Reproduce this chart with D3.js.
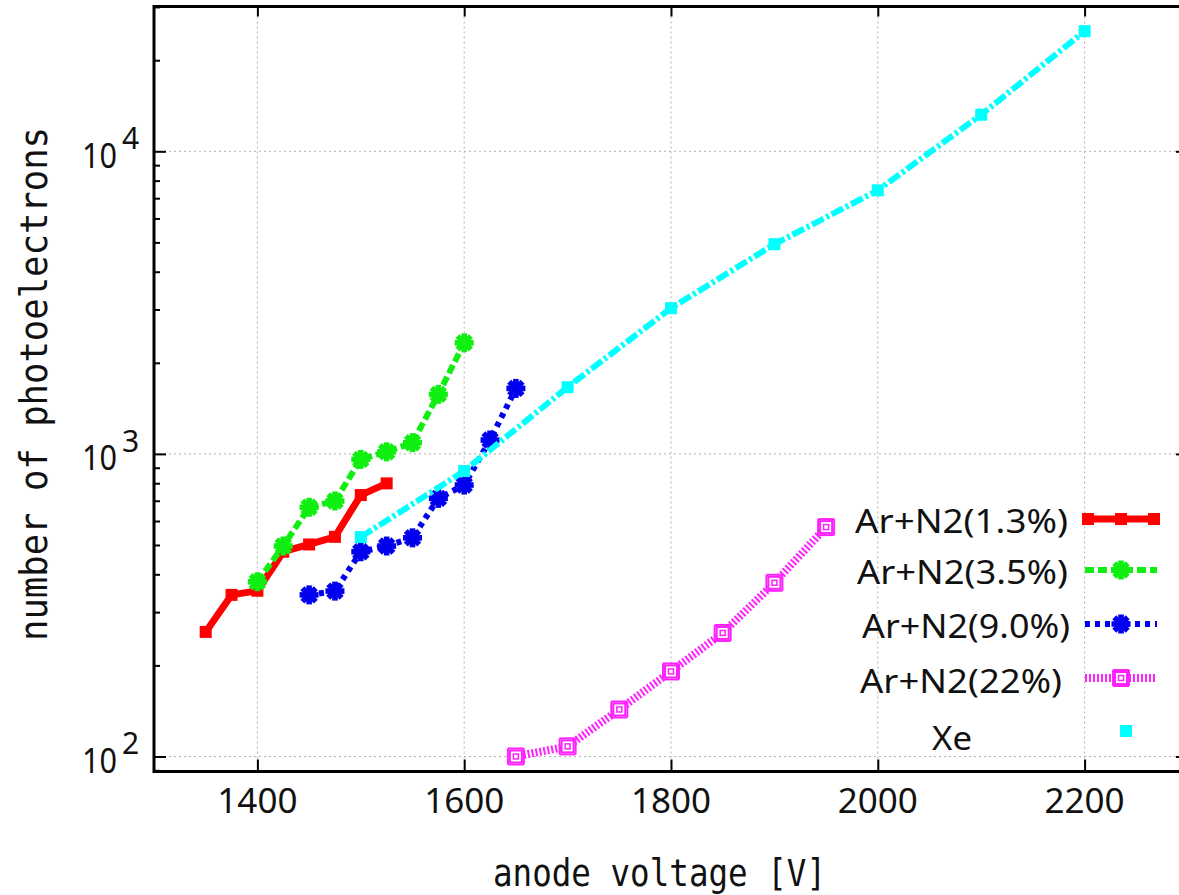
<!DOCTYPE html>
<html>
<head>
<meta charset="utf-8">
<script src="https://cdn.jsdelivr.net/npm/d3@7"></script>
<style>
  html, body { margin: 0; padding: 0; background: #fff; }
  svg { display: block; }
</style>
</head>
<body>
<svg id="chart" width="1179" height="895"></svg>
<script>
// ---------------- data ----------------
const volt13 = [1350, 1375, 1400, 1425, 1450, 1475, 1500, 1525];
const n13    = [258, 342, 353, 475, 502, 532, 731, 799];

const volt35 = [1400, 1425, 1450, 1475, 1500, 1525, 1550, 1575, 1600];
const n35    = [378, 496, 666, 699, 959, 1016, 1089, 1573, 2328];

const volt90 = [1450, 1475, 1500, 1525, 1550, 1575, 1600, 1625, 1650];
const n90    = [342, 352, 475, 496, 528, 713, 789, 1111, 1646];

const volt22 = [1650, 1700, 1750, 1800, 1850, 1900, 1950];
const n22    = [100, 108, 143, 191, 256, 375, 573];

const voltXe = [1500, 1600, 1700, 1800, 1900, 2000, 2100, 2200];
const nXe    = [531, 878, 1662, 3030, 4932, 7430, 13210, 24950];

const seriesNames = ["Ar+N2(1.3%)", "Ar+N2(3.5%)", "Ar+N2(9.0%)", "Ar+N2(22%)", "Xe"];
const xTickValues = [1400, 1600, 1800, 2000, 2200];
const yMajorTicks = [100, 1000, 10000];
const yExponents  = ["2", "3", "4"];
const xTitle = "anode voltage [V]";
const yTitle = "number of photoelectrons";

// ---------------- layout ----------------
const svg = d3.select("#chart");
const L = 154, R = 1188, T = 6.5, B = 771.5;

const x = d3.scaleLinear().domain([1300, 2300]).range([L, R]);
const y = d3.scaleLog().domain([89.2, 30100]).range([B, T]);

const series = [
  { name: seriesNames[0], xs: volt13, ys: n13, color: "#ff0000", dash: null, width: 7, marker: "square" },
  { name: seriesNames[1], xs: volt35, ys: n35, color: "#11ee11", dash: "9,4", width: 6, marker: "star" },
  { name: seriesNames[2], xs: volt90, ys: n90, color: "#0000ee", dash: "5,5", width: 6, marker: "star" },
  { name: seriesNames[3], xs: volt22, ys: n22, color: "#ff22ff", dash: "2,2", width: 8, marker: "hash" },
  { name: seriesNames[4], xs: voltXe, ys: nXe, color: "#00ffff", dash: "13,3,3,3", width: 6, marker: "fsquare" }
];

// ---------------- grid ----------------
const grid = svg.append("g");
xTickValues.forEach(v => {
  grid.append("line").attr("x1", x(v)).attr("x2", x(v)).attr("y1", T).attr("y2", B)
    .attr("stroke", "#b0b0b0").attr("stroke-width", 1).attr("stroke-dasharray", "2,3");
});
yMajorTicks.forEach(v => {
  grid.append("line").attr("x1", L).attr("x2", R).attr("y1", y(v)).attr("y2", y(v))
    .attr("stroke", "#b0b0b0").attr("stroke-width", 1).attr("stroke-dasharray", "2,3");
});

// ---------------- axes ----------------
const minorY = [90];
[100, 1000, 10000].forEach(d => { for (let k = 2; k <= 9; k++) { const v = d * k; if (v < 30100) minorY.push(v); } });

function styleAxis(g) {
  g.select(".domain").remove();
  g.selectAll("line").attr("stroke", "#000").attr("stroke-width", 2);
  g.selectAll("text").remove();
}
svg.append("g").attr("transform", `translate(${L},0)`).call(d3.axisLeft(y).tickValues(minorY).tickSize(-6)).call(styleAxis);
svg.append("g").attr("transform", `translate(${L},0)`).call(d3.axisLeft(y).tickValues(yMajorTicks).tickSize(-12)).call(styleAxis);
svg.append("g").attr("transform", `translate(${R},0)`).call(d3.axisRight(y).tickValues(minorY).tickSize(-6)).call(styleAxis);
svg.append("g").attr("transform", `translate(${R},0)`).call(d3.axisRight(y).tickValues(yMajorTicks).tickSize(-12)).call(styleAxis);
svg.append("g").attr("transform", `translate(0,${B})`).call(d3.axisBottom(x).tickValues(xTickValues).tickSize(-12)).call(styleAxis);
svg.append("g").attr("transform", `translate(0,${T})`).call(d3.axisTop(x).tickValues(xTickValues).tickSize(-10)).call(styleAxis);

svg.append("rect").attr("x", L).attr("y", T).attr("width", R - L).attr("height", B - T)
  .attr("fill", "none").attr("stroke", "#000").attr("stroke-width", 3);

// tick labels
xTickValues.forEach(v => {
  svg.append("text").attr("x", x(v)).attr("y", 813).attr("text-anchor", "middle")
    .attr("font-family", "'Noto Sans', sans-serif").attr("font-size", 35).attr("fill", "#111").text(v);
});
yMajorTicks.forEach((v, i) => {
  svg.append("text").attr("x", 117).attr("y", y(v) + 16.5).attr("text-anchor", "end")
    .attr("font-family", "'Noto Sans', sans-serif").attr("font-size", 35).attr("fill", "#111")
    .attr("textLength", 35).attr("lengthAdjust", "spacingAndGlyphs").text("10");
  svg.append("text").attr("x", 122).attr("y", y(v) - 2).attr("text-anchor", "start")
    .attr("font-family", "'Noto Sans', sans-serif").attr("font-size", 30).attr("fill", "#111").text(yExponents[i]);
});

// axis titles
svg.append("text").attr("x", 493).attr("y", 886)
  .attr("font-family", "'DejaVu Sans Mono', monospace").attr("font-size", 37).attr("fill", "#111")
  .attr("textLength", 333).attr("lengthAdjust", "spacingAndGlyphs").text(xTitle);
svg.append("text").attr("transform", "translate(47,641) rotate(-90)")
  .attr("font-family", "'DejaVu Sans Mono', monospace").attr("font-size", 37).attr("fill", "#111")
  .attr("textLength", 514).attr("lengthAdjust", "spacingAndGlyphs").text(yTitle);

// ---------------- markers ----------------
function drawMarker(g, type, cx, cy, color) {
  if (type === "square" || type === "fsquare") {
    const s = 12;
    g.append("rect").attr("x", cx - s / 2).attr("y", cy - s / 2).attr("width", s).attr("height", s).attr("fill", color);
  } else if (type === "star") {
    const sg = g.append("g").attr("transform", `translate(${cx},${cy})`);
    [0, 45, 90, 135].forEach(a => {
      sg.append("rect").attr("x", -9.5).attr("y", -2.8).attr("width", 19).attr("height", 5.6)
        .attr("transform", `rotate(${a})`).attr("fill", color);
    });
    sg.append("rect").attr("x", -4).attr("y", -4).attr("width", 8).attr("height", 8).attr("fill", color);
  } else if (type === "hash") {
    g.append("rect").attr("x", cx - 6).attr("y", cy - 6).attr("width", 12).attr("height", 12)
      .attr("fill", "#fff").attr("stroke", color).attr("stroke-width", 2);
    g.append("rect").attr("x", cx - 2.5).attr("y", cy - 2.5).attr("width", 5).attr("height", 5)
      .attr("fill", "none").attr("stroke", color).attr("stroke-width", 1.5);
    [-8, 8].forEach(d => {
      g.append("line").attr("x1", cx - 8).attr("x2", cx + 8).attr("y1", cy + d).attr("y2", cy + d).attr("stroke", color).attr("stroke-width", 2);
      g.append("line").attr("x1", cx + d).attr("x2", cx + d).attr("y1", cy - 8).attr("y2", cy + 8).attr("stroke", color).attr("stroke-width", 2);
    });
  }
}

const plot = svg.append("g");
const line = d3.line().x(d => x(d[0])).y(d => y(d[1]));
series.forEach(s => {
  const pts = s.xs.map((v, i) => [v, s.ys[i]]);
  plot.append("path").datum(pts).attr("d", line).attr("fill", "none")
    .attr("stroke", s.color).attr("stroke-width", s.width)
    .attr("stroke-dasharray", s.dash).attr("stroke-linejoin", "round");
  const mg = plot.append("g");
  pts.forEach(p => drawMarker(mg, s.marker, x(p[0]), y(p[1]), s.color));
});

// ---------------- legend ----------------
const legendRows = [
  { ty: 533, sy: 519, tx: 1068, tl: 213 },
  { ty: 584, sy: 570, tx: 1068, tl: 211 },
  { ty: 638, sy: 624, tx: 1070, tl: 208 },
  { ty: 693, sy: 678, tx: 1062, tl: 202 },
  { ty: 750, sy: 731, tx: 972,  tl: 40 }
];
const leg = svg.append("g");
series.forEach((s, i) => {
  const r = legendRows[i];
  leg.append("text").attr("x", r.tx).attr("y", r.ty).attr("text-anchor", "end")
    .attr("font-family", "'Noto Sans', sans-serif").attr("font-size", 33).attr("fill", "#111")
    .attr("textLength", r.tl).attr("lengthAdjust", "spacingAndGlyphs").text(s.name);
  if (s.name !== "Xe") {
    leg.append("line").attr("x1", 1085).attr("x2", 1157).attr("y1", r.sy).attr("y2", r.sy)
      .attr("stroke", s.color).attr("stroke-width", s.width).attr("stroke-dasharray", s.dash);
    if (s.marker === "square") {
      [1088, 1121, 1154].forEach(mx => drawMarker(leg, s.marker, mx, r.sy, s.color));
    } else {
      drawMarker(leg, s.marker, 1121, r.sy, s.color);
    }
  } else {
    drawMarker(leg, s.marker, 1126, r.sy, s.color);
  }
});
</script>
</body>
</html>
